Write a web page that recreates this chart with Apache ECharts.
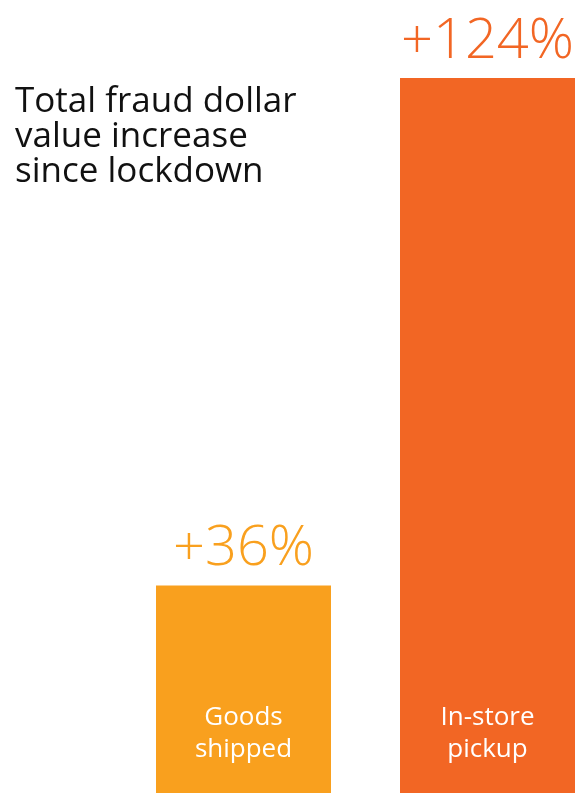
<!DOCTYPE html>
<html>
<head>
<meta charset="utf-8">
<script src="https://cdn.jsdelivr.net/npm/echarts@6/dist/echarts.min.js"></script>
<style>
  html, body { margin: 0; padding: 0; background: #fff; }
  #chart { width: 578px; height: 793px; }
</style>
</head>
<body>
<div id="chart"></div>
<script>
// Fraud dollar value increase since lockdown, by fulfilment channel
const categories = ['Goods\nshipped', 'In-store\npickup'];
const increases = [36, 124];
const barColors = ['#F9A01E', '#F26624'];

const chart = echarts.init(document.getElementById('chart'), null, { renderer: 'canvas' });

const seriesData = increases.map((v, i) => ({
  value: v,
  itemStyle: { color: barColors[i] },
  label: { color: barColors[i] }
}));

chart.setOption({
  backgroundColor: '#fff',
  animation: false,
  title: {
    text: 'Total fraud dollar\nvalue increase\nsince lockdown',
    left: 10,
    top: 80,
    textStyle: {
      fontFamily: 'Open Sans',
      fontSize: 35,
      fontWeight: 'normal',
      color: '#111',
      lineHeight: 35
    }
  },
  // categories sit on the grid edges, so the bars straddle them
  grid: { left: 243.5, right: 90.5, top: 78, bottom: 0, containLabel: false },
  xAxis: {
    type: 'category',
    data: categories,
    boundaryGap: false,
    z: 10,
    axisLine: { show: false },
    axisTick: { show: false },
    splitLine: { show: false },
    axisLabel: {
      inside: true,
      margin: 27,
      color: '#fff',
      fontFamily: 'Open Sans',
      fontSize: 26,
      lineHeight: 32,
      verticalAlign: 'bottom'
    }
  },
  yAxis: {
    type: 'value',
    min: 0,
    max: 124,
    show: false,
    splitLine: { show: false }
  },
  series: [{
    type: 'bar',
    data: seriesData,
    barWidth: 175,
    clip: false,
    label: {
      show: true,
      position: 'top',
      distance: 8,
      formatter: '+{c}%',
      fontFamily: 'Open Sans',
      fontWeight: 300,
      fontSize: 56
    }
  }]
});
</script>
</body>
</html>
